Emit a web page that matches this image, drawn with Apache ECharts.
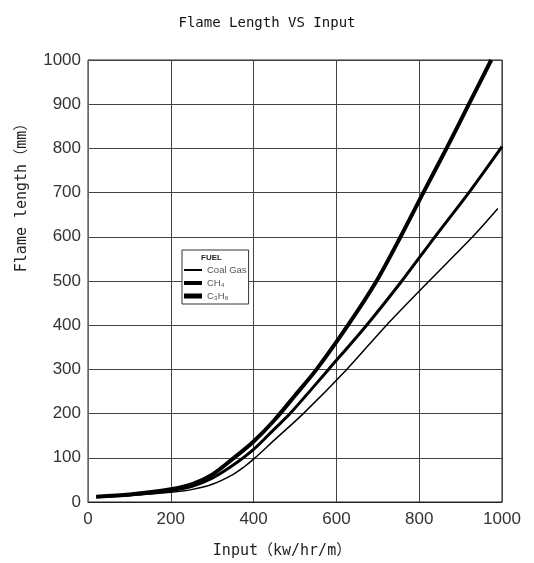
<!DOCTYPE html>
<html>
<head>
<meta charset="utf-8">
<script src="https://cdn.jsdelivr.net/npm/echarts@6/dist/echarts.min.js"></script>
<style>
  html, body { margin: 0; padding: 0; background: #fff; }
  #chart { width: 534px; height: 563px; }
</style>
</head>
<body>
<div id="chart"></div>
<script>
// 数据
const xTicks = [0, 200, 400, 600, 800, 1000];
const yTicks = [0, 100, 200, 300, 400, 500, 600, 700, 800, 900, 1000];

const coalGasX = [20, 100, 200, 250, 300, 350, 375, 400, 450, 520, 625, 721, 824, 929, 990];
const coalGasY = [12, 15, 22, 28, 40, 62, 78, 97, 140, 200, 300, 400, 500, 600, 664];

const ch4X = [20, 100, 200, 250, 300, 350, 400, 450, 488, 581, 673, 758, 838, 920, 1000];
const ch4Y = [12, 16, 26, 35, 54, 83, 119, 165, 200, 300, 400, 500, 600, 700, 804];

const c3h8X = [20, 100, 200, 250, 300, 350, 400, 450, 500, 552, 628, 697, 755, 810, 866, 920, 974];
const c3h8Y = [12, 17, 29, 40, 62, 98, 137, 185, 241, 300, 400, 500, 600, 700, 800, 900, 1000];

const fuelNames = ['Coal Gas', 'CH₄', 'C₃H₈'];
const lineWidths = [1.5, 3, 4];

const pairs = (xs, ys) => xs.map((x, i) => [x, ys[i]]);

const monoFont = '"DejaVu Sans Mono", "Noto Sans CJK SC", monospace';
const sansFont = '"Liberation Sans", Arial, sans-serif';

//折线
const makeLine = (name, data, width) => ({
    name: name,
    type: 'line',
    data: data,
    symbol: 'none',
    smooth: 0.3,
    lineStyle: {
        color: '#000',
        width: width
    },
    itemStyle: {
        color: '#000'
    }
});

// legend icon: a bar as thick as the line
const legendIcon = (w) => 'path://M0,0H18V' + w + 'H0Z';

const option = {
    animation: false,
    backgroundColor: '#fff',
    title: {
        text: 'Flame Length VS Input',
        left: 'center',
        top: 11,
        textStyle: {
            fontFamily: monoFont,
            fontSize: 14,
            fontWeight: 'normal',
            color: '#111'
        }
    },
    grid: {
        left: 88,
        right: 32,
        top: 60,
        bottom: 61,
        show: true,
        borderColor: '#222',
        borderWidth: 1
    },
    legend: {
        orient: 'vertical',
        left: 182,
        top: 250,
        padding: [15, 2, 3, 2],
        itemGap: 3,
        itemWidth: 18,
        itemHeight: 11,
        backgroundColor: '#fff',
        borderColor: '#333',
        borderWidth: 1,
        data: [
            { name: fuelNames[0], icon: legendIcon(2) },
            { name: fuelNames[1], icon: legendIcon(4) },
            { name: fuelNames[2], icon: legendIcon(5) }
        ],
        textStyle: {
            fontFamily: sansFont,
            fontSize: 9.5,
            color: '#555'
        }
    },
    xAxis: {
        type: 'value',
        min: xTicks[0],
        max: xTicks[xTicks.length - 1],
        interval: 200,
        axisLine: {
            show: true,
            lineStyle: { color: '#222', width: 1 }
        },
        axisTick: { show: false },
        splitLine: {
            show: true,
            lineStyle: { color: '#444', width: 1 }
        },
        axisLabel: {
            margin: 9,
            formatter: (v) => String(v),
            fontFamily: sansFont,
            fontSize: 17,
            color: '#333'
        }
    },
    yAxis: {
        type: 'value',
        min: yTicks[0],
        max: yTicks[yTicks.length - 1],
        interval: 100,
        axisLine: {
            show: true,
            lineStyle: { color: '#666', width: 1 }
        },
        axisTick: { show: false },
        splitLine: {
            show: true,
            lineStyle: { color: '#444', width: 1 }
        },
        axisLabel: {
            margin: 7,
            formatter: (v) => String(v),
            fontFamily: sansFont,
            fontSize: 17,
            color: '#333'
        }
    },
    graphic: [
        {
            type: 'text',
            x: 22,
            y: 194,
            rotation: Math.PI / 2,
            style: {
                text: 'Flame length（mm）',
                font: '15px ' + monoFont,
                fill: '#222',
                align: 'center',
                verticalAlign: 'middle'
            }
        },
        {
            type: 'text',
            x: 282,
            y: 551,
            style: {
                text: 'Input（kw/hr/m）',
                font: '15px ' + monoFont,
                fill: '#222',
                align: 'center',
                verticalAlign: 'middle'
            }
        },
        {
            type: 'text',
            x: 201,
            y: 258,
            z: 100,
            style: {
                text: 'FUEL',
                font: 'bold 8px ' + sansFont,
                fill: '#223',
                align: 'left',
                verticalAlign: 'middle'
            }
        }
    ],
    series: [
        makeLine(fuelNames[0], pairs(coalGasX, coalGasY), lineWidths[0]),
        makeLine(fuelNames[1], pairs(ch4X, ch4Y), lineWidths[1]),
        makeLine(fuelNames[2], pairs(c3h8X, c3h8Y), lineWidths[2])
    ]
};

const chart = echarts.init(document.getElementById('chart'));
chart.setOption(option);
</script>
</body>
</html>
